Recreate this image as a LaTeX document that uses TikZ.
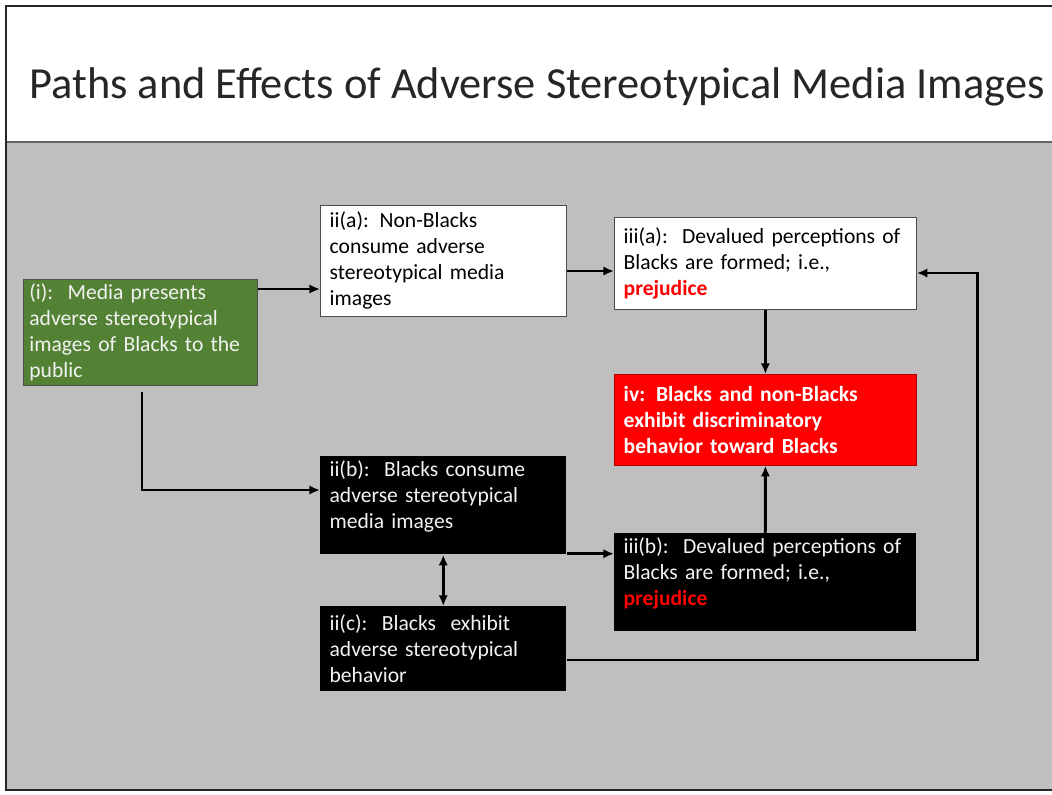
\documentclass[tikz,border=0pt]{standalone}
\usepackage{fontspec}
\setmainfont{Carlito}
\usetikzlibrary{arrows.meta}

\definecolor{slidegray}{HTML}{BFBFBF}
\definecolor{mediagreen}{HTML}{548235}
\definecolor{prejred}{HTML}{FF0000}
\definecolor{softwhite}{HTML}{F2F2F2}

\newcommand{\prej}{\textcolor{prejred}{\textbf{prejudice}}}

\begin{document}
\begin{tikzpicture}[x=0.75pt, y=-0.75pt,
  box/.style={anchor=north west, align=left, inner xsep=7pt, inner ysep=3pt,
    font=\fontsize{16.2}{19.5}\selectfont},
  whitebox/.style={box, fill=white, draw=black!70, line width=0.6pt, text=black},
  blackbox/.style={box, fill=black, text=softwhite},
  arr/.style={line width=2.2pt, -{Latex[length=8pt,width=7pt]}},
  dblarr/.style={line width=2.2pt, {Latex[length=8pt,width=7pt]}-{Latex[length=8pt,width=7pt]}}]

  % Slide frame and title
  \useasboundingbox (0,0) rectangle (1052,794);
  \fill[white] (0,0) rectangle (1052,794);
  \fill[slidegray] (6,142) rectangle (1052,790);
  \draw[black!60, line width=1pt] (6,142) -- (1052,142);
  \draw[black!85, line width=1.5pt] (1060,6) -- (6,6) -- (6,790) -- (1060,790);
  \node[text=black!85, font=\fontsize{33.3}{38}\selectfont] (title) at (537,87)
    {Paths and Effects of Adverse Stereotypical Media Images};

  % Boxes
  \node[box, fill=mediagreen, draw=black!70, line width=0.6pt, text=softwhite,
    inner xsep=4.5pt, text width=166.5pt, minimum height=79.5pt] (media) at (23,279)
    {(i):\ \ Media presents\\ adverse stereotypical\\ images of Blacks to the\\ public};
  \node[whitebox, text width=170.5pt, minimum height=83.25pt] (nonblack) at (320,205)
    {ii(a): Non-Blacks\\ consume adverse\\ stereotypical media\\ images};
  \node[whitebox, text width=212.5pt, minimum height=69pt] (percA) at (614,217)
    {iii(a):\ \ Devalued perceptions of\\ Blacks are formed; i.e.,\\ \prej};
  \node[box, fill=prejred, draw=red!70!black, line width=0.6pt, text=white,
    text width=212.5pt, minimum height=68.25pt, font=\fontsize{16.2}{19.5}\selectfont\bfseries]
    (behave) at (614,374)
    {iv: Blacks and non-Blacks\\ exhibit discriminatory\\ behavior toward Blacks};
  \node[blackbox, text width=170.5pt, minimum height=72.75pt] (blackcons) at (320,456)
    {ii(b):\ \ Blacks consume\\ adverse stereotypical\\ media images\par\vspace*{14pt}};
  \node[blackbox, text width=212.5pt, minimum height=72.75pt] (percB) at (614,533)
    {iii(b):\ \ Devalued perceptions of\\ Blacks are formed; i.e.,\\ \prej\par\vspace*{14pt}};
  \node[blackbox, text width=170.5pt, minimum height=63.75pt] (blackact) at (320,606)
    {ii(c):\ \ Blacks\ \ exhibit\\ adverse stereotypical\\ behavior};

  % Arrows
  \coordinate (m1) at ([yshift=-7.5pt]media.north east);
  \draw[arr] (m1) -- (m1 -| nonblack.west);
  \coordinate (n1) at ([yshift=-49.5pt]nonblack.north east);
  \draw[arr] (n1) -- (n1 -| percA.west);
  \coordinate (m2) at ([xshift=89.25pt, yshift=-4.5pt]media.south west);
  \coordinate (b1) at ([yshift=-25.5pt]blackcons.north west);
  \draw[arr] (m2) |- (b1);
  \draw[arr] (percA.south) -- (behave.north);
  \draw[arr] (percB.north) -- (behave.south);
  \coordinate (b2) at ([yshift=0.75pt]blackcons.south east);
  \draw[arr] (b2) -- (b2 -| percB.west);
  \draw[dblarr] (blackcons.south) -- (blackact.north);
  \coordinate (c1) at ([yshift=-40.5pt]blackact.north east);
  \coordinate (a2) at ([yshift=-42pt]percA.north east);
  \draw[arr] (c1) -- ++(411,0) |- (a2);
\end{tikzpicture}
\end{document}
